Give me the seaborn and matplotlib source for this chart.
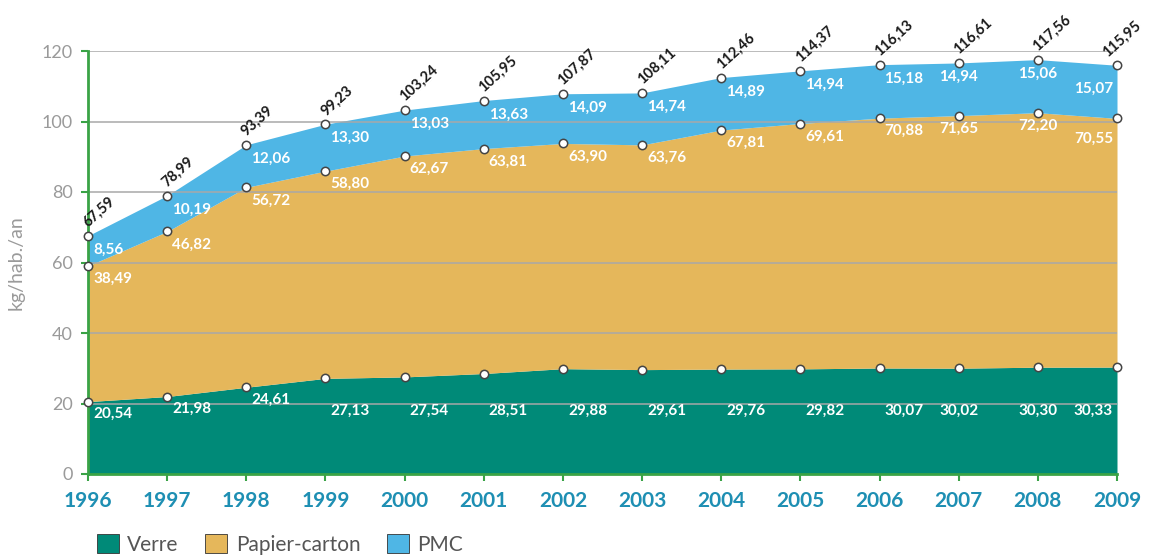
import matplotlib
matplotlib.use("Agg")
import matplotlib.pyplot as plt
import matplotlib.patches as mpatches
import numpy as np
import pandas as pd
import seaborn as sns

years = [1996, 1997, 1998, 1999, 2000, 2001, 2002, 2003, 2004, 2005, 2006, 2007, 2008, 2009]
verre = [20.54, 21.98, 24.61, 27.13, 27.54, 28.51, 29.88, 29.61, 29.76, 29.82, 30.07, 30.02, 30.30, 30.33]
papier = [38.49, 46.82, 56.72, 58.80, 62.67, 63.81, 63.90, 63.76, 67.81, 69.61, 70.88, 71.65, 72.20, 70.55]
pmc = [8.56, 10.19, 12.06, 13.30, 13.03, 13.63, 14.09, 14.74, 14.89, 14.94, 15.18, 14.94, 15.06, 15.07]
totals = [67.59, 78.99, 93.39, 99.23, 103.24, 105.95, 107.87, 108.11, 112.46, 114.37, 116.13, 116.61, 117.56, 115.95]
series_names = ["Verre", "Papier-carton", "PMC"]
y_ticks = [0, 20, 40, 60, 80, 100, 120]

c_verre = "#008a78"
c_papier = "#e5b75b"
c_pmc = "#4fb6e5"
c_axis = "#3aa346"
c_year = "#1e8fb3"
c_grey = "#9a9a9a"

sns.set_theme(style="white")
plt.rcParams["font.family"] = ["Lato", "DejaVu Sans"]

df = pd.DataFrame({"annee": years, "Verre": verre, "Papier-carton": papier, "PMC": pmc})
df["l1"] = df["Verre"]
df["l2"] = df["l1"] + df["Papier-carton"]
df["l3"] = df["l2"] + df["PMC"]

fig = plt.figure(figsize=(11.49, 5.58), dpi=100)
ax = fig.add_axes([88 / 1149, 1 - 474 / 558, (1117 - 88) / 1149, (474 - 51) / 558])

ax.fill_between(df["annee"], 0, df["l1"], color=c_verre, lw=0, zorder=1)
ax.fill_between(df["annee"], df["l1"], df["l2"], color=c_papier, lw=0, zorder=1)
ax.fill_between(df["annee"], df["l2"], df["l3"], color=c_pmc, lw=0, zorder=1)

# horizontal guides drawn over the filled areas
for t in y_ticks[1:]:
    ax.axhline(t, color="#a8a8a8", lw=1.1, zorder=2)

# boundary points
pts = pd.concat([
    pd.DataFrame({"annee": df["annee"], "y": df[c]}) for c in ["l1", "l2", "l3"]
])
sns.scatterplot(data=pts, x="annee", y="y", ax=ax, s=36, color="white",
                edgecolor="#444444", linewidth=1.1, zorder=4, clip_on=False, legend=False)

def fmt(v):
    return f"{v:.2f}".replace(".", ",")

PX = 72 / 100  # one pixel in points

n = len(years)
for i, yr in enumerate(years):
    last = i == n - 1
    if last:
        ha, dx = "right", -4 * PX
    elif i >= n - 3:
        ha, dx = "center", 0
    else:
        ha, dx = "left", 5 * PX
    kw = dict(textcoords="offset points", ha=ha, va="center", color="white",
              fontsize=11, fontweight="bold", zorder=5)
    # Verre
    yv = verre[i] - 3.5 if verre[i] < 25 else 18
    ax.annotate(fmt(verre[i]), (yr, yv), xytext=(dx, 0), **kw)
    # Papier-carton
    ax.annotate(fmt(papier[i]), (yr, df["l2"][i]),
                xytext=(dx, (-20 if last else -13) * PX), **kw)
    # PMC
    ax.annotate(fmt(pmc[i]), (yr, df["l3"][i]),
                xytext=(dx, (-24 if last else -14) * PX), **kw)
    # total, rotated above the top boundary
    tx = (-7 if last else 2) * PX
    ax.annotate(fmt(totals[i]), (yr, df["l3"][i]), xytext=(tx, 6 * PX),
                textcoords="offset points", ha="left", va="bottom",
                rotation=42, rotation_mode="anchor",
                color="#1a1a1a", fontsize=10.5, fontweight="bold", zorder=5,
                annotation_clip=False)

ax.set_xlim(years[0], years[-1])
ax.set_ylim(0, 120)
ax.set_xticks(years)
ax.set_xticklabels([str(y) for y in years], color=c_year, fontsize=15, fontweight="bold")
ax.set_yticks(y_ticks)
ax.set_yticklabels([str(t) for t in y_ticks], color=c_grey, fontsize=13)
ax.tick_params(axis="both", which="major", length=5, width=1.5, color=c_axis,
               bottom=True, left=True, direction="out")
ax.tick_params(axis="x", pad=7)
ax.tick_params(axis="y", pad=6)
ax.set_xlabel("")
ax.set_ylabel("kg/hab./an", color=c_grey, fontsize=14, labelpad=12)

for side in ["top", "right"]:
    ax.spines[side].set_visible(False)
for side in ["left", "bottom"]:
    ax.spines[side].set_color(c_axis)
    ax.spines[side].set_linewidth(2)
    ax.spines[side].set_zorder(3)

handles = [mpatches.Patch(facecolor=c, edgecolor="#333333", linewidth=0.6, label=l)
           for c, l in zip([c_verre, c_papier, c_pmc], series_names)]
fig.legend(handles=handles, loc="lower left", bbox_to_anchor=(78 / 1149, -0.028),
           ncol=3, frameon=False, fontsize=15, handlelength=1.05, handleheight=1.05,
           handletextpad=0.4, columnspacing=1.3, labelcolor="#555555")

fig.savefig("out.png", dpi=100)
